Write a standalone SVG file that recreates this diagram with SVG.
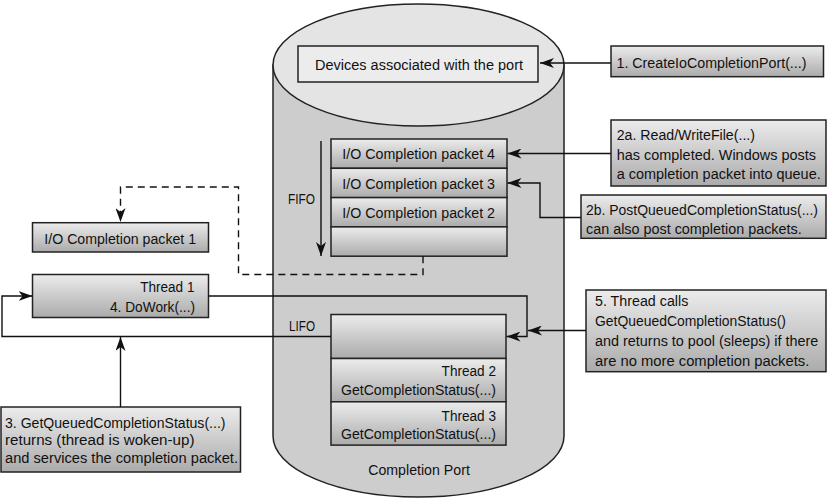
<svg xmlns="http://www.w3.org/2000/svg" width="827" height="498" viewBox="0 0 827 498">
<defs>
<linearGradient id="g" x1="0" y1="0" x2="0" y2="1">
<stop offset="0" stop-color="#ececec"/>
<stop offset="1" stop-color="#ababab"/>
</linearGradient>
<marker id="ah" viewBox="0 0 14 10" refX="14" refY="5" markerWidth="14" markerHeight="10" markerUnits="userSpaceOnUse" orient="auto">
<path d="M0,0 L14,5 L0,10 L4,5 Z" fill="#111"/>
</marker>
<style>
text{font-family:"Liberation Sans",Arial,sans-serif;font-size:15.5px;fill:#111}
.c{text-anchor:middle}
.r{text-anchor:end}
.box{fill:url(#g);stroke:#222;stroke-width:1.5}
.cn{fill:none;stroke:#111;stroke-width:1.4}
.ar{marker-end:url(#ah)}
.dash{stroke-dasharray:7,5}
</style>
</defs>
<rect width="827" height="498" fill="#fff"/>

<g id="cylinder">
<path d="M273,65 L273,436 A145.5,61 0 0 0 564,436 L564,65 Z" fill="#cdcdcd" stroke="#222" stroke-width="1.5"/>
<ellipse cx="418.5" cy="65" rx="145.5" ry="61" fill="#e4e4e4" stroke="#222" stroke-width="1.5"/>
<text class="c" x="419" y="475" textLength="101.7" lengthAdjust="spacingAndGlyphs">Completion Port</text>
<text class="c" x="301.5" y="203.5" textLength="27" lengthAdjust="spacingAndGlyphs">FIFO</text>
<text class="c" x="302" y="330.5" textLength="26" lengthAdjust="spacingAndGlyphs">LIFO</text>
</g>

<g id="devices">
<rect x="298" y="46" width="240" height="36" fill="#ececec" stroke="#222" stroke-width="1.5"/>
<text class="c" x="419" y="69.5" textLength="208" lengthAdjust="spacingAndGlyphs">Devices associated with the port</text>
</g>

<g id="packet4">
<rect class="box" x="331" y="139" width="176" height="29.3"/>
<text class="c" x="418.7" y="159" textLength="152.7" lengthAdjust="spacingAndGlyphs">I/O Completion packet 4</text>
</g>
<g id="packet3">
<rect class="box" x="331" y="168.3" width="176" height="29.3"/>
<text class="c" x="418.7" y="188.5" textLength="152.7" lengthAdjust="spacingAndGlyphs">I/O Completion packet 3</text>
</g>
<g id="packet2">
<rect class="box" x="331" y="197.6" width="176" height="29.3"/>
<text class="c" x="418.7" y="217.8" textLength="152.7" lengthAdjust="spacingAndGlyphs">I/O Completion packet 2</text>
</g>
<g id="packetEmpty">
<rect class="box" x="331" y="226.9" width="176" height="29.3"/>
</g>

<g id="lifoEmpty">
<rect class="box" x="331" y="314.5" width="175" height="44"/>
</g>
<g id="thread2">
<rect class="box" x="331" y="358.5" width="175" height="43.3"/>
<text class="r" x="496" y="376" textLength="54.4" lengthAdjust="spacingAndGlyphs">Thread 2</text>
<text class="r" x="496" y="395" textLength="155" lengthAdjust="spacingAndGlyphs">GetCompletionStatus(...)</text>
</g>
<g id="thread3">
<rect class="box" x="331" y="401.8" width="175" height="43.3"/>
<text class="r" x="496" y="420.5" textLength="54.4" lengthAdjust="spacingAndGlyphs">Thread 3</text>
<text class="r" x="496" y="439" textLength="155" lengthAdjust="spacingAndGlyphs">GetCompletionStatus(...)</text>
</g>

<g id="packet1">
<rect class="box" x="32.5" y="222.7" width="176" height="29.3"/>
<text class="c" x="120.2" y="244" textLength="151.7" lengthAdjust="spacingAndGlyphs">I/O Completion packet 1</text>
</g>

<g id="thread1">
<rect class="box" x="32.5" y="274.5" width="176" height="43"/>
<text class="r" x="194.5" y="292" textLength="54.3" lengthAdjust="spacingAndGlyphs">Thread 1</text>
<text class="r" x="195" y="312" textLength="85" lengthAdjust="spacingAndGlyphs">4. DoWork(...)</text>
</g>

<g id="step1">
<rect class="box" x="611" y="46" width="212.5" height="30.7"/>
<text x="616.5" y="68" textLength="190" lengthAdjust="spacingAndGlyphs">1. CreateIoCompletionPort(...)</text>
</g>

<g id="step2a">
<rect class="box" x="611" y="120" width="215" height="66"/>
<text x="616.7" y="139.5" textLength="138.3" lengthAdjust="spacingAndGlyphs">2a. Read/WriteFile(...)</text>
<text x="616.7" y="159.5" textLength="199.3" lengthAdjust="spacingAndGlyphs">has completed. Windows posts</text>
<text x="616.7" y="179" textLength="204" lengthAdjust="spacingAndGlyphs">a completion packet into queue.</text>
</g>

<g id="step2b">
<rect class="box" x="581" y="195" width="245" height="43.3"/>
<text x="586" y="215" textLength="232" lengthAdjust="spacingAndGlyphs">2b. PostQueuedCompletionStatus(...)</text>
<text x="586" y="234" textLength="215.7" lengthAdjust="spacingAndGlyphs">can also post completion packets.</text>
</g>

<g id="step5">
<rect class="box" x="586" y="290" width="240" height="81.7"/>
<text x="595" y="306" textLength="93.3" lengthAdjust="spacingAndGlyphs">5. Thread calls</text>
<text x="595" y="325.5" textLength="191" lengthAdjust="spacingAndGlyphs">GetQueuedCompletionStatus()</text>
<text x="595" y="345.5" textLength="223.3" lengthAdjust="spacingAndGlyphs">and returns to pool (sleeps) if there</text>
<text x="595" y="365.5" textLength="214.3" lengthAdjust="spacingAndGlyphs">are no more completion packets.</text>
</g>

<g id="step3">
<rect class="box" x="1" y="407" width="239.5" height="65"/>
<text x="5" y="427.5" textLength="220.5" lengthAdjust="spacingAndGlyphs">3. GetQueuedCompletionStatus(...)</text>
<text x="5" y="445" textLength="189.5" lengthAdjust="spacingAndGlyphs">returns (thread is woken-up)</text>
<text x="5" y="462.5" textLength="233" lengthAdjust="spacingAndGlyphs">and services the completion packet.</text>
</g>

<g id="connectors">
<path class="cn ar" d="M611,63 L540,63"/>
<path class="cn ar" d="M611,153.5 L507.5,153.5"/>
<path class="cn ar" d="M581,217.5 L540,217.5 L540,183 L507.5,183"/>
<path class="cn ar" d="M321,141 L321,256"/>
<path class="cn ar dash" d="M423,256.2 L423,274.5 L238.5,274.5 L238.5,187 L120.5,187 L120.5,222"/>
<path class="cn ar" d="M208.5,296 L527,296 L527,336.5 L506.5,336.5"/>
<path class="cn ar" d="M586,330.5 L528,330.5"/>
<path class="cn ar" d="M331,336.5 L2,336.5 L2,296 L32.5,296"/>
<path class="cn ar" d="M120.5,407 L120.5,337"/>
</g>
</svg>
